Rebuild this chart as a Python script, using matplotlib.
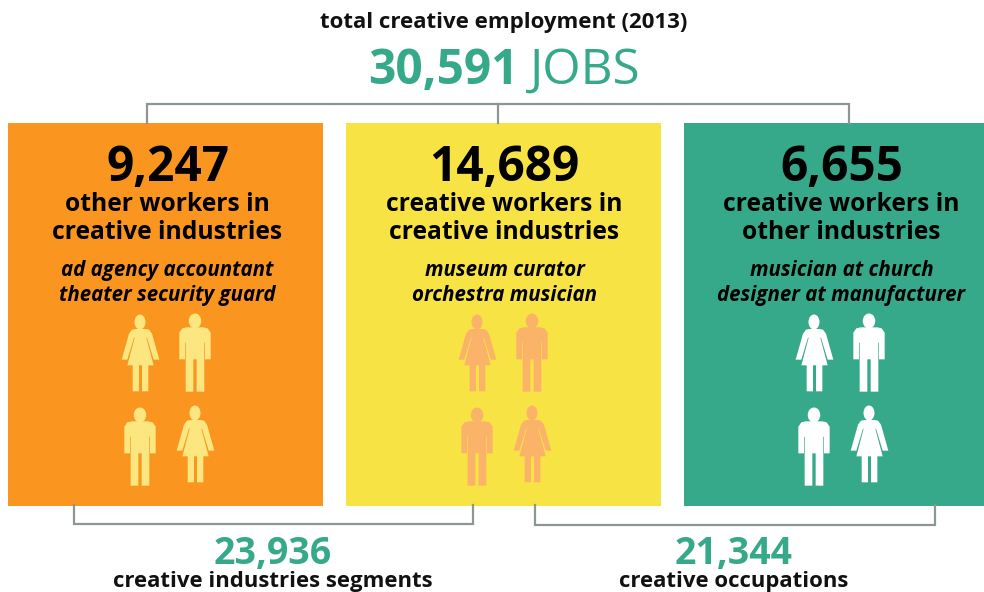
import matplotlib
matplotlib.use("Agg")
import matplotlib.pyplot as plt
from matplotlib.patches import Rectangle, Polygon, Ellipse

plt.rcParams['font.family'] = ['Open Sans', 'DejaVu Sans']

title = "total creative employment (2013)"
total = "30,591"
total_unit = "JOBS"
counts = ["9,247", "14,689", "6,655"]
heads = [["other workers in", "creative industries"],
         ["creative workers in", "creative industries"],
         ["creative workers in", "other industries"]]
examples = [["ad agency accountant", "theater security guard"],
            ["museum curator", "orchestra musician"],
            ["musician at church", "designer at manufacturer"]]
sums = ["23,936", "21,344"]
sum_labels = ["creative industries segments", "creative occupations"]

GREEN = "#36a98a"
panel_cols = ["#fa9620", "#f8e344", GREEN]
icon_cols = ["#fbe67f", "#fbb36a", "#ffffff"]
LINE = "#8e9693"

# icon outlines, in units of zoomed px around the head centre
woman_half = [(-14, 21), (-24, 23), (-33, 35), (-55, 113), (-38, 113), (-18, 47), (-16, 47),
              (-38, 130), (-22, 130), (-22, 208), (-3, 208), (-3, 130)]
woman = woman_half + [(-x + 3, y) for x, y in woman_half[::-1]]
man_half = [(-25, 19), (-38, 22), (-47, 35), (-47, 115), (-30, 115), (-30, 65), (-28, 65),
            (-28, 212), (-5, 212), (-5, 115), (5, 115)]
man = man_half + [(-x, y) for x, y in man_half[-2::-1]]


def draw_person(ax, cx, cy, kind, col):
    pts = woman if kind == "w" else man
    pts = [(cx + x / 3, cy + y / 3) for x, y in pts]
    ax.add_patch(Polygon(pts, closed=True, fc=col, ec="none"))
    if kind == "w":
        ax.add_patch(Ellipse((cx, cy), 11, 15, fc=col, ec="none"))
    else:
        ax.add_patch(Ellipse((cx, cy), 12.5, 15, fc=col, ec="none"))


fig = plt.figure(figsize=(9.84, 5.92), dpi=100)
ax = fig.add_axes([0, 0, 1, 1])
ax.set_xlim(0, 984)
ax.set_ylim(592, 0)
ax.axis("off")

# brackets
ax.plot([147, 147, 849, 849], [123, 103.5, 103.5, 123], color=LINE, lw=1.6, solid_joinstyle="miter")
ax.plot([498, 498], [103.5, 123], color=LINE, lw=1.6)
ax.plot([73.5, 73.5, 473, 473], [505, 523.5, 523.5, 505], color=LINE, lw=1.6, solid_joinstyle="miter")
ax.plot([534.5, 534.5, 934.5, 934.5], [505, 525, 525, 505], color=LINE, lw=1.6, solid_joinstyle="miter")

ax.text(504, 28, title, ha="center", va="baseline", fontsize=16, fontweight="bold", color="#111111")
ax.text(368.5, 84, total, ha="left", va="baseline", fontsize=34.4, fontweight="bold", color=GREEN)
ax.text(530, 84, total_unit, ha="left", va="baseline", fontsize=35.6, color=GREEN)

panel_x = [8, 346, 684]
panel_w = [315, 315, 300]
count_x = [167.5, 504.5, 841.5]
for i in range(3):
    ax.add_patch(Rectangle((panel_x[i], 123), panel_w[i], 383, fc=panel_cols[i], ec="none"))
    ax.text(count_x[i], 181, counts[i], ha="center", va="baseline", fontsize=34.4, fontweight="bold", color="black")
    ax.text(count_x[i], 210.7, heads[i][0], ha="center", va="baseline", fontsize=17.7, fontweight="bold", color="black")
    ax.text(count_x[i], 238.7, heads[i][1], ha="center", va="baseline", fontsize=17.7, fontweight="bold", color="black")
    ax.text(count_x[i], 276, examples[i][0], ha="center", va="baseline", fontsize=14.8, fontweight="bold",
            style="italic", color="black")
    ax.text(count_x[i], 301, examples[i][1], ha="center", va="baseline", fontsize=14.8, fontweight="bold",
            style="italic", color="black")
    off = 337 * i
    draw_person(ax, 140 + off, 322, "w", icon_cols[i])
    draw_person(ax, 195 + off, 321, "m", icon_cols[i])
    draw_person(ax, 140 + off, 415, "m", icon_cols[i])
    draw_person(ax, 195 + off, 413, "w", icon_cols[i])

sum_x = [273, 734]
for i in range(2):
    ax.text(sum_x[i], 564, sums[i], ha="center", va="baseline", fontsize=27, fontweight="bold", color=GREEN)
    ax.text(sum_x[i], 586.5, sum_labels[i], ha="center", va="baseline", fontsize=15.9, fontweight="bold",
            color="#111111")

fig.savefig("out.png", dpi=100)
